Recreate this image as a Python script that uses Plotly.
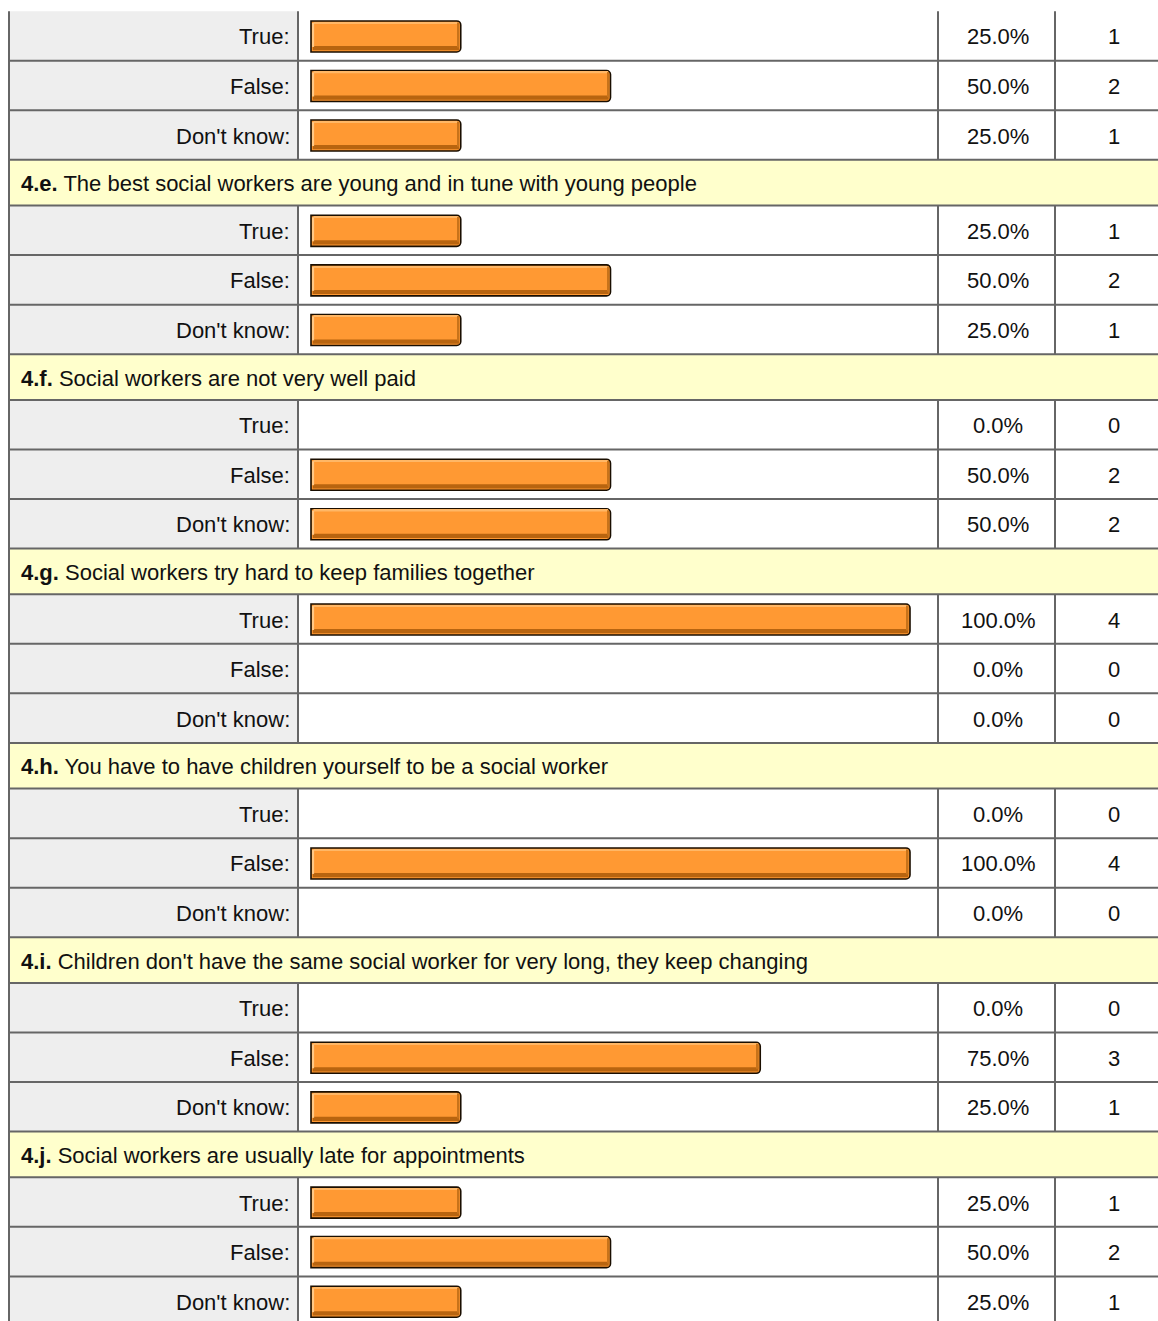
import plotly.graph_objects as go

# ---------------- data ----------------
question_ids = ["4.d.", "4.e.", "4.f.", "4.g.", "4.h.", "4.i.", "4.j."]
question_texts = [
    None,  # header of 4.d lies above the visible area
    "The best social workers are young and in tune with young people",
    "Social workers are not very well paid",
    "Social workers try hard to keep families together",
    "You have to have children yourself to be a social worker",
    "Children don't have the same social worker for very long, they keep changing",
    "Social workers are usually late for appointments",
]
answer_labels = ["True:", "False:", "Don't know:"]

pct_4d = [25.0, 50.0, 25.0]
pct_4e = [25.0, 50.0, 25.0]
pct_4f = [0.0, 50.0, 50.0]
pct_4g = [100.0, 0.0, 0.0]
pct_4h = [0.0, 100.0, 0.0]
pct_4i = [0.0, 75.0, 25.0]
pct_4j = [25.0, 50.0, 25.0]

count_4d = [1, 2, 1]
count_4e = [1, 2, 1]
count_4f = [0, 2, 2]
count_4g = [4, 0, 0]
count_4h = [0, 4, 0]
count_4i = [0, 3, 1]
count_4j = [1, 2, 1]

pcts = [pct_4d, pct_4e, pct_4f, pct_4g, pct_4h, pct_4i, pct_4j]
counts = [count_4d, count_4e, count_4f, count_4g, count_4h, count_4i, count_4j]

# ---------------- layout constants ----------------
W, H = 1158, 1321
X_LEFT, X_LABEL, X_PCT, X_CNT = 9, 298, 938, 1055
BAR_X0, PX_PER_PCT = 311, 5.99
TOP, HEAD_H, ROW_H = 11.2, 45.7, 49.55
BAR_H, BAR_DY = 31, 0.5
FONT = "Liberation Sans, Arial, sans-serif"
FS = 22
GRID = "#666666"
TXT = "#111111"


def px(xp):
    return xp / W


shapes, annots = [], []
bar_x, bar_y = [], []
hlines = []
vsegs = []

y = TOP
for gi, (qid, qtext) in enumerate(zip(question_ids, question_texts)):
    if qtext is not None:
        hlines.append(y)
        shapes.append(dict(type="rect", xref="paper", yref="y", x0=px(X_LEFT), x1=1,
                           y0=y, y1=y + HEAD_H, fillcolor="#FFFFCC", line_width=0, layer="below"))
        annots.append(dict(xref="paper", yref="y", x=px(19), y=y + HEAD_H / 2 + 1,
                           xanchor="left", yanchor="middle", showarrow=False,
                           text=f"<b>{qid}</b> {qtext}",
                           font=dict(family=FONT, size=FS, color=TXT)))
        y += HEAD_H
    g_start = y
    for ri, lab in enumerate(answer_labels):
        if not (gi == 0 and ri == 0):
            hlines.append(y)
        yc = y + ROW_H / 2
        shapes.append(dict(type="rect", xref="paper", yref="y", x0=px(X_LEFT), x1=px(X_LABEL),
                           y0=y, y1=y + ROW_H, fillcolor="#EEEEEE", line_width=0, layer="below"))
        annots.append(dict(xref="paper", yref="y", x=px(292), y=yc + 1, xanchor="right",
                           yanchor="middle", showarrow=False, text=lab,
                           font=dict(family=FONT, size=FS, color=TXT)))
        p = pcts[gi][ri]
        annots.append(dict(xref="paper", yref="y", x=px(998), y=yc + 1, xanchor="center",
                           yanchor="middle", showarrow=False, text=f"{p:.1f}%",
                           font=dict(family=FONT, size=FS, color=TXT)))
        annots.append(dict(xref="paper", yref="y", x=px(1114), y=yc + 1, xanchor="center",
                           yanchor="middle", showarrow=False, text=str(counts[gi][ri]),
                           font=dict(family=FONT, size=FS, color=TXT)))
        if p > 0:
            bar_x.append(p)
            bar_y.append(yc + BAR_DY)
        y += ROW_H
    vsegs.append((g_start, y))

for hy in hlines:
    shapes.append(dict(type="line", xref="paper", yref="y", x0=px(X_LEFT - 1), x1=1,
                       y0=hy, y1=hy, line=dict(color=GRID, width=2)))
for (a, b) in vsegs:
    for xv in (X_LABEL, X_PCT, X_CNT):
        shapes.append(dict(type="line", xref="paper", yref="y", x0=px(xv), x1=px(xv),
                           y0=a, y1=b, line=dict(color=GRID, width=2)))
shapes.append(dict(type="line", xref="paper", yref="y", x0=px(X_LEFT), x1=px(X_LEFT),
                   y0=TOP, y1=H + 5, line=dict(color=GRID, width=2)))

# ---------------- bars ----------------
fig = go.Figure()
fig.add_trace(go.Bar(
    x=bar_x, y=bar_y, orientation="h", width=BAR_H,
    marker=dict(color="#FF9933", line=dict(color="#1A0E00", width=1.6), cornerradius=4),
    hoverinfo="skip", showlegend=False))
# darker bottom band
fig.add_trace(go.Bar(
    x=[v - 0.6 for v in bar_x], base=0.3, y=[b + 11.6 for b in bar_y], orientation="h",
    width=4.2, marker=dict(color="#B8640F", line_width=0),
    hoverinfo="skip", showlegend=False))
# lighter top highlight
fig.add_trace(go.Bar(
    x=[v - 0.8 for v in bar_x], base=0.4, y=[b - 13.6 for b in bar_y], orientation="h",
    width=1.4, marker=dict(color="#FFB766", line_width=0),
    hoverinfo="skip", showlegend=False))
# light streak at left end
fig.add_trace(go.Bar(
    x=[0.22 for v in bar_x], base=0.3, y=[b - 1.5 for b in bar_y], orientation="h",
    width=24, marker=dict(color="#FFC885", line_width=0),
    hoverinfo="skip", showlegend=False))
# darker shading at right end
fig.add_trace(go.Bar(
    x=[0.3 for v in bar_x], base=[v - 0.55 for v in bar_x], y=[b - 1.5 for b in bar_y],
    orientation="h", width=25, marker=dict(color="#C8731A", line_width=0),
    hoverinfo="skip", showlegend=False))

x0_range = (X_LABEL + 2 - BAR_X0) / PX_PER_PCT
x1_range = (X_PCT - BAR_X0) / PX_PER_PCT
fig.update_layout(
    width=W, height=H, margin=dict(l=0, r=0, t=0, b=0, pad=0),
    paper_bgcolor="white", plot_bgcolor="white",
    barmode="overlay",
    xaxis=dict(domain=[px(X_LABEL + 2), px(X_PCT)], range=[x0_range, x1_range],
               visible=False, fixedrange=True),
    yaxis=dict(range=[H, 0], domain=[0, 1], visible=False, fixedrange=True),
    shapes=shapes, annotations=annots,
)

fig.write_html("out.html", config={"displayModeBar": False},
               post_script="document.body.style.margin='0';document.body.style.overflow='hidden';")
